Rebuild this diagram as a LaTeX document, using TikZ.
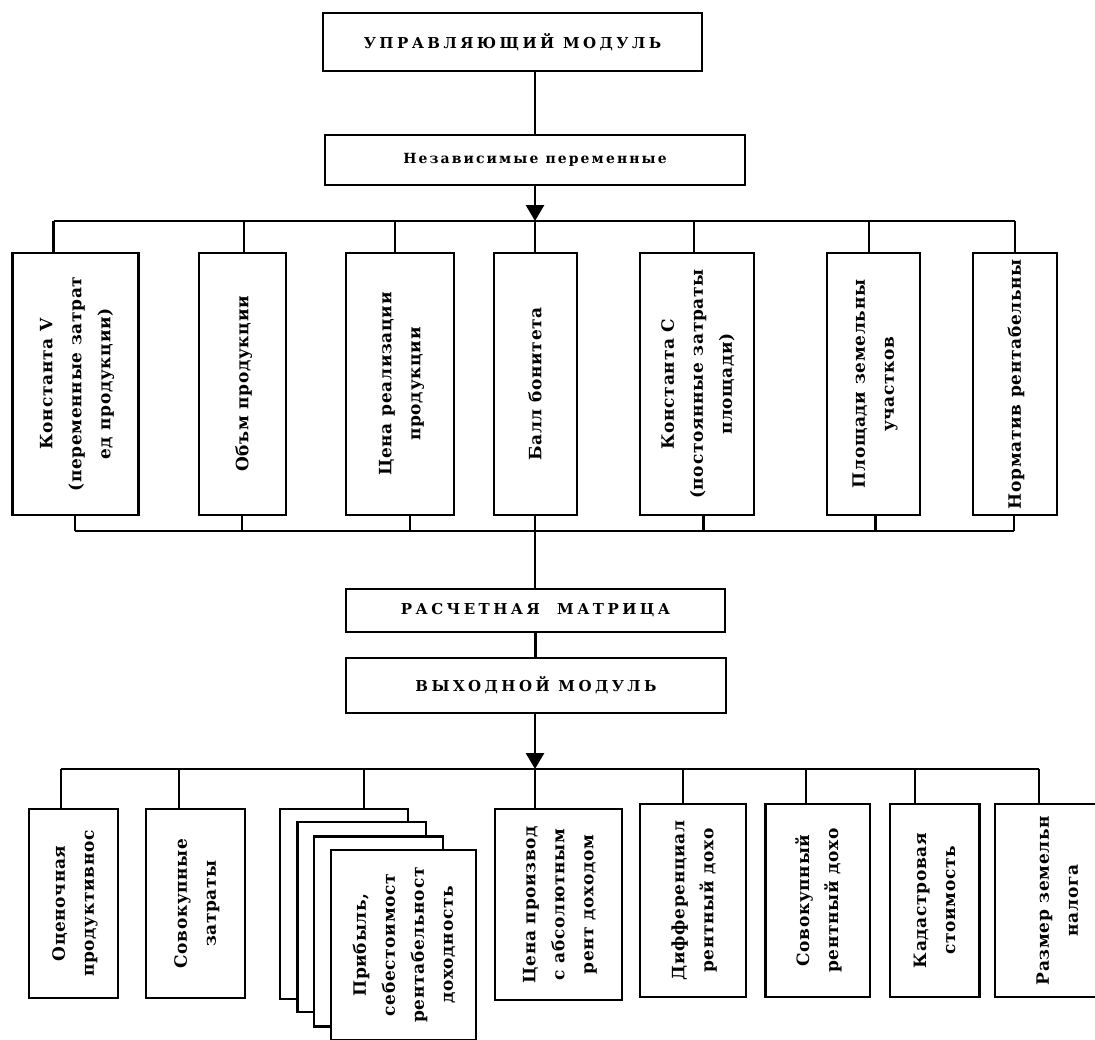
\documentclass[tikz,border=0pt]{standalone}
\usepackage{fontspec}
\usepackage{graphicx}
\setmainfont{DejaVu Serif}
\newfontfamily\vfont[LetterSpace=4]{DejaVu Serif}
\newfontfamily\capsfont[LetterSpace=23]{DejaVu Serif}
\newfontfamily\varfont[LetterSpace=15]{DejaVu Serif}
\usetikzlibrary{arrows.meta}

% rotated text for the tall boxes
\newcommand{\vtext}[1]{\rotatebox{90}{\vfont\bfseries\fontsize{8.5}{14.5}\selectfont
  \begin{tabular}{@{}c@{}}#1\end{tabular}}}

\begin{document}
\begin{tikzpicture}[x=0.5pt, y=-0.5pt, line width=1.4pt,
  blk/.style={rectangle, draw, fill=white, inner sep=0pt},
  sz/.style 2 args={minimum width=#1*0.5pt, minimum height=#2*0.5pt},
  capstext/.style={font=\capsfont\bfseries\fontsize{7.5}{10}\selectfont},
  tip/.style={-{Triangle[length=8pt,width=9pt]}}]
  \useasboundingbox (0,0) rectangle (1095,1039);

  % modules
  \node[blk, sz={379}{58}, capstext] (upr) at (512.5,42) {УПРАВЛЯЮЩИЙ МОДУЛЬ};
  \node[blk, sz={420}{50}, font=\varfont\bfseries\fontsize{7}{9}\selectfont] (nezav) at (535,160) {Независимые переменные};
  \node[blk, sz={379}{43}, capstext] (mat) at (535.5,610.5) {РАСЧЕТНАЯ\ \ МАТРИЦА};
  \node[blk, sz={380}{55}, capstext] (vyh) at (536,685.5) {ВЫХОДНОЙ МОДУЛЬ};

  % independent variables
  \node[blk, sz={126}{262}] (c1) at (75.5,384) {\vtext{Константа V\\(переменные затрат\\ед продукции)}};
  \node[blk, sz={87}{262}] (c2) at (242.5,384) {\vtext{Объм продукции}};
  \node[blk, sz={108}{262}] (c3) at (400,384) {\vtext{Цена реализации\\продукции}};
  \node[blk, sz={83}{262}] (c4) at (535.5,384) {\vtext{Балл бонитета}};
  \node[blk, sz={114}{262}] (c5) at (697,384) {\vtext{Константа С\\(постоянные затраты\\площади)}};
  \node[blk, sz={93}{262}] (c6) at (873.5,384) {\vtext{Площади земельны\\участков}};
  \node[blk, sz={84}{262}] (c7) at (1015,384) {\vtext{Норматив рентабельны}};

  % output values
  \node[blk, sz={89}{189}] (b1) at (73.5,903.5) {\vtext{Оценочная\\продуктивнос}};
  \node[blk, sz={99}{189}] (b2) at (195.5,903.5) {\vtext{Совокупные\\затраты}};
  \node[blk, sz={128}{190}] (b3) at (344,904) {};
  \node[blk, sz={128.5}{190}] (b3b) at (361.75,917) {};
  \node[blk, sz={129}{190}] (b3c) at (378.5,931.5) {};
  \node[blk, sz={145}{190}] (b3d) at (403.5,945) {\vtext{Прибыль,\\себестоимост\\рентабельност\\доходность}};
  \node[blk, sz={127}{191}] (b4) at (558.5,904.5) {\vtext{Цена производ\\с абсолютным\\рент доходом}};
  \node[blk, sz={106}{193}] (b5) at (693,900.5) {\vtext{Дифференциал\\рентный дохо}};
  \node[blk, sz={104.5}{193}] (b6) at (817.75,900.5) {\vtext{Совокупный\\рентный дохо}};
  \node[blk, sz={89.5}{193}] (b7) at (934.75,900.5) {\vtext{Кадастровая\\стоимость}};
  \node[blk, sz={125}{193}] (b8) at (1057.5,900.5) {\vtext{Размер земельн\\налога}};

  % upper bus
  \foreach \i/\x in {1/53.6,2/244,3/395,4/535,5/694,6/869,7/1015}
    \coordinate (t\i) at (\x,221);
  \foreach \i/\x in {1/75,2/242,3/410,4/535,5/703.5,6/875.6,7/1014}
    \coordinate (u\i) at (\x,531);
  \draw (nezav.north |- upr.south) -- (nezav.north);
  \draw[tip] (nezav.south) -- (t4);
  \draw (t1) -- (t7);
  \draw (u1) -- (u7);
  \foreach \i in {1,...,7} {
    \draw (t\i) -- (t\i |- c\i.north);
    \draw (c\i.south -| u\i) -- (u\i);
  }
  \draw (u4) -- (u4 |- mat.north);
  \draw (mat.south) -- (mat.south |- vyh.north);

  % lower bus
  \foreach \i/\x in {1/61,2/179,3/364,4/535,5/683,6/806,7/915,8/1039}
    \coordinate (v\i) at (\x,769);
  \draw[tip] (vyh.south -| v4) -- (v4);
  \draw (v1) -- (v8);
  \foreach \i in {1,...,8}
    \draw (v\i) -- (v\i |- b\i.north);
\end{tikzpicture}
\end{document}
